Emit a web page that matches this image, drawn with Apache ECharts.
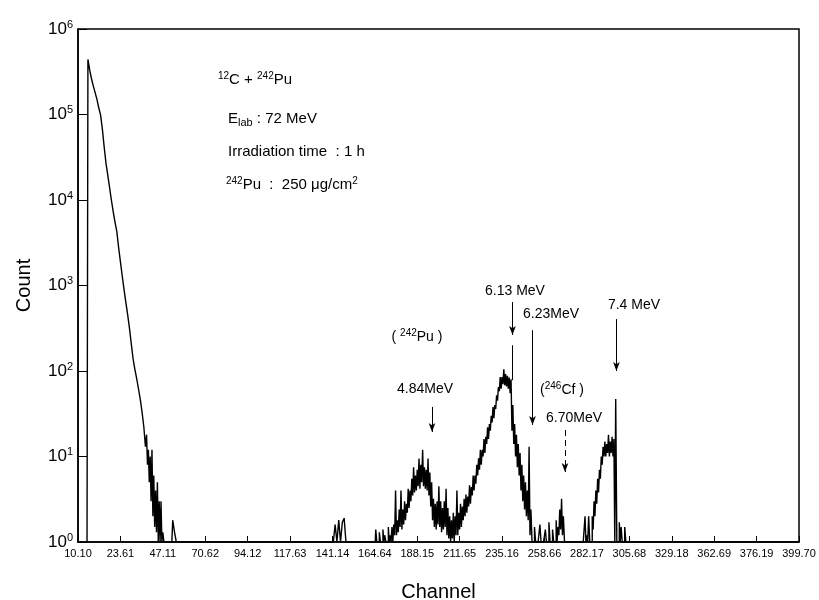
<!DOCTYPE html>
<html>
<head>
<meta charset="utf-8">
<script src="https://cdn.jsdelivr.net/npm/echarts@6/dist/echarts.min.js"></script>
<style>
  html, body { margin: 0; padding: 0; background: #fff; }
  #chart { width: 819px; height: 600px; }
</style>
</head>
<body>
<div id="chart"></div>
<script>
// channel axis: ticks every 23.505 channels, labels as printed on the figure
const channelStep = 23.505;
const tickLabels = ['10.10', '23.61', '47.11', '70.62', '94.12', '117.63', '141.14', '164.64', '188.15',
  '211.65', '235.16', '258.66', '282.17', '305.68', '329.18', '362.69', '376.19', '399.70'];

// elastic / low energy part, channels 5..37 (one value per channel)
const lowStart = 5;
const lowCounts = [1, 440000, 330000, 260000, 215000, 180000, 150000, 120000, 99000, 68000,
  42000, 27000, 19500, 14000, 10000, 7300, 5500, 4300, 2800, 1900,
  1300, 900, 640, 460, 320, 210, 140, 105, 82, 62,
  47, 33, 22];

// noisy tail of the elastic part, channels 38..48 (spike tops / troughs)
const tailStart = 38;
const tailHigh = [18, 12, 10, 12, 6, 4, 5, 3, 3, 1.3, 1];
const tailLow = [13, 8, 5, 3, 2, 1.5, 1.3, 1, 1, 1, 1];

// isolated small spikes
const spikeChannels = [53, 54, 143, 145, 147, 148];
const spikeCounts = [1.8, 1.3, 1.6, 1.8, 1.7, 1.9];

// alpha region, channels 160..305 (spike tops / troughs)
const alphaStart = 160;
const alphaHigh = [1, 1, 1, 1, 1, 1.4, 1, 1.3, 1, 1.4,
  1.2, 1, 1.5, 1.2, 1.5, 1.6, 4, 1.8, 2.4, 4,
  2.4, 3, 2.8, 4.2, 4, 5.5, 7.5, 6, 7, 9.5,
  8, 12, 7.5, 7, 9.5, 6.5, 5, 3.2, 2.8, 3,
  4.5, 3, 2.5, 3, 4.2, 2.5, 2, 1.8, 2.2, 2,
  4, 2.2, 2.8, 2.6, 3.2, 3.6, 3.4, 4.6, 4.4, 6,
  6, 8, 9.5, 12, 12, 16, 17, 22, 24, 30,
  38, 40, 52, 65, 85, 85, 105, 92, 88, 84,
  80, 40, 24, 18, 14, 11, 8, 6, 5, 4,
  13, 2.4, 1, 1.5, 1, 1, 1.6, 1, 1, 1.4,
  1, 1.7, 1, 1.4, 1, 1.8, 1.5, 2.4, 3.2, 2,
  1, 1, 1, 1, 1, 1, 1, 1, 1, 1,
  1, 2, 1.2, 2, 1, 2, 3, 4, 5.5, 7,
  10, 13, 15, 14, 18, 15, 17, 16, 47, 1,
  1.7, 1.5, 1, 1.5, 1, 1];
const alphaLow = [1, 1, 1, 1, 1, 1, 1, 1, 1, 1,
  1, 1, 1, 1, 1, 1, 1.2, 1.2, 1.3, 1.5,
  1.4, 1.6, 1.8, 2.2, 2.5, 3, 3.5, 3.8, 4, 4.5,
  4.2, 5, 4.5, 4.2, 4, 3.5, 2.6, 1.8, 1.5, 1.4,
  1.6, 1.5, 1.3, 1.4, 1.5, 1.2, 1.1, 1, 1.1, 1,
  1.2, 1.2, 1.4, 1.5, 1.8, 2, 2.2, 2.6, 2.8, 3.5,
  4, 4.8, 6, 7, 8, 10, 11, 14, 16, 20,
  25, 28, 36, 45, 58, 62, 70, 68, 66, 62,
  55, 20, 14, 10, 7.5, 6, 4, 3, 2.4, 2,
  1.8, 1.2, 1, 1, 1, 1, 1, 1, 1, 1,
  1, 1, 1, 1, 1, 1, 1, 1.2, 1.4, 1.2,
  1, 1, 1, 1, 1, 1, 1, 1, 1, 1,
  1, 1, 1, 1, 1, 1, 1.4, 2, 2.8, 3.8,
  5.5, 8, 10, 10, 11, 10, 11, 10, 1, 1,
  1, 1, 1, 1, 1, 1];

const lastChannel = 399;

// arrows: channel, count at tail, count at head
const arrowChannels = [196.2, 240.8, 251.9, 269.9, 298.4];
const arrowTops = [38, 640, 300, 20.4, 405];
const arrowHeads = [19.4, 264, 23.4, 6.6, 100];

const FONT = '"Liberation Sans", Arial, sans-serif';

// build the spectrum: each channel is [trough, top] where the picture shows noise
const bands = {};
lowCounts.forEach((c, i) => { bands[lowStart + i] = [c, c]; });
tailHigh.forEach((c, i) => { bands[tailStart + i] = [tailLow[i], c]; });
spikeChannels.forEach((ch, i) => { bands[ch] = [spikeCounts[i], spikeCounts[i]]; });
alphaHigh.forEach((c, i) => { bands[alphaStart + i] = [alphaLow[i], c]; });
const spectrum = [];
for (let ch = lowStart; ch <= lastChannel; ch++) {
  const b = bands[ch] || [1, 1];
  if (b[0] === b[1]) {
    spectrum.push([ch, b[0]]);
  } else {
    spectrum.push([ch - 0.25, b[0]]);
    spectrum.push([ch + 0.25, b[1]]);
  }
}

const arrowLines = arrowChannels.map((ch, i) => {
  const seg = [{ coord: [ch, arrowTops[i]], symbol: 'none' }, { coord: [ch, arrowHeads[i]], symbol: 'arrow', symbolSize: [5, 9] }];
  if (i === 3) {
    seg[0].lineStyle = { type: [6, 4] };
  }
  return seg;
});
// extension of the 6.13 MeV arrow down to the peak
arrowLines.push([{ coord: [240.8, 200], symbol: 'none' }, { coord: [240.8, 78], symbol: 'none' }]);

const sup = { fontSize: 10, fontFamily: FONT, verticalAlign: 'top', lineHeight: 10, fill: '#000' };
const sub = { fontSize: 11, fontFamily: FONT, verticalAlign: 'bottom', lineHeight: 10, fill: '#000' };

function label(text, x, y, align, size) {
  return {
    type: 'text', x: x, y: y,
    style: {
      text: text, fontSize: size || 15, fontFamily: FONT, fill: '#000',
      align: align || 'left', verticalAlign: 'middle', lineHeight: 18,
      rich: { sup: sup, sub: sub }
    }
  };
}

const chart = echarts.init(document.getElementById('chart'));
chart.setOption({
  animation: false,
  backgroundColor: '#fff',
  grid: {
    left: 78, right: 20, top: 29, bottom: 58, outerBoundsMode: 'none',
    show: true, borderColor: '#000', borderWidth: 1.5
  },
  xAxis: {
    type: 'value', min: 0, max: 17 * channelStep, interval: channelStep,
    name: 'Channel', nameLocation: 'middle', nameGap: 40,
    nameTextStyle: { fontSize: 20, fontFamily: FONT, color: '#000' },
    axisLine: { show: true, lineStyle: { color: '#000', width: 1.5 } },
    axisTick: { show: true, inside: true, length: 6, lineStyle: { color: '#000' } },
    axisLabel: {
      fontSize: 11, fontFamily: FONT, color: '#000', margin: 6,
      formatter: v => tickLabels[Math.round(v / channelStep)]
    },
    splitLine: { show: false }
  },
  yAxis: {
    type: 'log', logBase: 10, min: 1, max: 1000000,
    name: 'Count', nameLocation: 'middle', nameGap: 44,
    nameTextStyle: { fontSize: 20, fontFamily: FONT, color: '#000' },
    axisLine: { show: true, lineStyle: { color: '#000', width: 1.5 } },
    axisTick: { show: true, inside: true, length: 9, lineStyle: { color: '#000' } },
    minorTick: { show: false },
    axisLabel: {
      color: '#000', margin: 5,
      formatter: v => '{b|10}{s|' + Math.round(Math.log10(v)) + '}',
      rich: {
        b: { fontSize: 17, fontFamily: FONT, color: '#000', lineHeight: 20 },
        s: { fontSize: 11, fontFamily: FONT, color: '#000', verticalAlign: 'top', lineHeight: 11 }
      }
    },
    splitLine: { show: false }
  },
  series: [{
    type: 'line',
    data: spectrum,
    step: 'middle',
    showSymbol: false,
    lineStyle: { color: '#000', width: 1.4 },
    markLine: {
      silent: true,
      label: { show: false },
      lineStyle: { color: '#000', width: 1, type: 'solid' },
      data: arrowLines
    }
  }],
  graphic: [
    label('{sup|12}C + {sup|242}Pu', 218, 80),
    label('E{sub|lab} : 72 MeV', 228, 119),
    label('Irradiation time  : 1 h', 228, 152),
    label('{sup|242}Pu  :  250 μg/cm{sup|2}', 226, 185),
    label('( {sup|242}Pu )', 417, 337, 'center', 14),
    label('4.84MeV', 425, 389, 'center', 14),
    label('6.13 MeV', 515, 291, 'center', 14),
    label('6.23MeV', 551, 314, 'center', 14),
    label('({sup|246}Cf )', 562, 390, 'center', 14),
    label('6.70MeV', 574, 418, 'center', 14),
    label('7.4 MeV', 634, 305, 'center', 14)
  ]
});
</script>
</body>
</html>
